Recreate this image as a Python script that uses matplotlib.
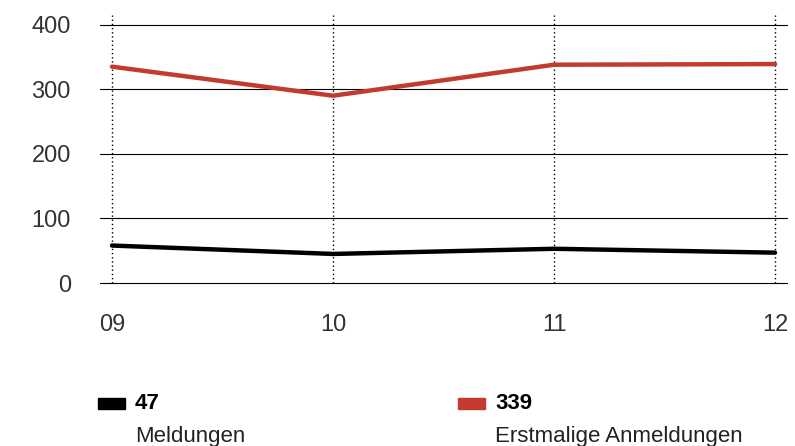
import matplotlib
matplotlib.use("Agg")
import matplotlib.pyplot as plt
import matplotlib.patches as mpatches

# data
years = ["09", "10", "11", "12"]
meldungen = [58, 45, 53, 47]
anmeldungen = [335, 290, 338, 339]
series_names = ["Meldungen", "Erstmalige Anmeldungen"]
series_colors = ["#000000", "#c23b2e"]
y_ticks = [0, 100, 200, 300, 400]

plt.rcParams['font.family'] = ['Liberation Sans', 'DejaVu Sans']

fig = plt.figure(figsize=(7.95, 4.46), dpi=100)
ax = fig.add_axes([100 / 795, 1 - 283 / 446, 687 / 795, 268 / 446])

x = list(range(len(years)))
ax.plot(x, meldungen, color=series_colors[0], lw=3.2, solid_capstyle='round', zorder=3)
ax.plot(x, anmeldungen, color=series_colors[1], lw=3.2, solid_capstyle='round', zorder=3)

ax.set_xlim(-12 / 221, 3 + 12 / 221)
ax.set_ylim(0, 415)
ax.set_yticks(y_ticks)
ax.set_xticks(x)
ax.set_xticklabels(years)

# grid: solid horizontal, dotted vertical
for v in y_ticks:
    ax.axhline(v, color='black', lw=0.8, zorder=1, clip_on=False)
ax.grid(True, axis='x', color='black', linestyle=(0, (1, 2)), lw=1.0)
ax.set_axisbelow(True)

for s in ax.spines.values():
    s.set_visible(False)
ax.tick_params(axis='both', length=0, labelsize=17, colors='#333333')
ax.tick_params(axis='y', pad=21)
ax.tick_params(axis='x', pad=22)

# legend blocks under the chart
legend_x = [98 / 795, 458 / 795]
values = [meldungen[-1], anmeldungen[-1]]
for lx, name, col, val in zip(legend_x, series_names, series_colors, values):
    fig.add_artist(mpatches.Rectangle((lx, 1 - 409 / 446), 27 / 795, 11 / 446,
                                      transform=fig.transFigure, color=col))
    fig.text(lx + 37 / 795, 1 - 409 / 446, str(val), fontsize=16, weight='bold',
             va='baseline', ha='left', color='black')
    fig.text(lx + 37 / 795, 1 - 442 / 446, name, fontsize=16,
             va='baseline', ha='left', color='#222222')

fig.savefig("out.png", dpi=100)
